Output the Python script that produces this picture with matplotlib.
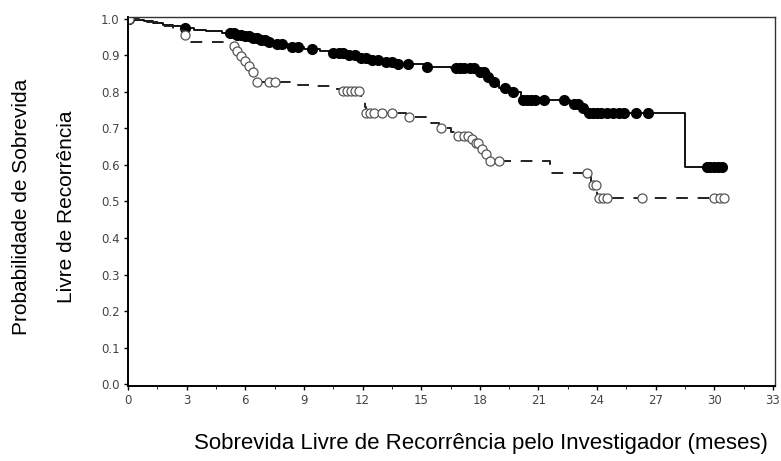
import matplotlib.pyplot as plt
import numpy as np
from matplotlib.ticker import MultipleLocator

# Solid curve (filled circles): step times and survival after each step
solid_t = [0, 0.3, 0.8, 1.3, 1.8, 2.3, 2.8, 3.4, 4.0, 4.8, 5.5, 5.9, 6.3, 6.7, 7.1,
           7.5, 8.2, 9.0, 9.8, 10.4, 11.2, 11.8, 12.5, 13.0, 13.6, 15.2, 16.5,
           18.0, 18.3, 18.6, 19.0, 19.6, 20.1, 22.6, 23.2, 23.5, 28.5, 30.5]
solid_s = [1.0, 0.997, 0.993, 0.988, 0.984, 0.979, 0.975, 0.970, 0.966, 0.962,
           0.957, 0.952, 0.947, 0.942, 0.936, 0.930, 0.924, 0.918, 0.912, 0.907,
           0.900, 0.894, 0.888, 0.881, 0.875, 0.869, 0.866, 0.855, 0.840, 0.826,
           0.812, 0.800, 0.778, 0.768, 0.755, 0.743, 0.595, 0.595]
solid_cens = [0.05, 2.9, 5.2, 5.4, 5.6, 5.8, 6.0, 6.2, 6.4, 6.6, 6.8, 7.0, 7.2, 7.6,
              7.9, 8.4, 8.7, 9.4, 10.5, 10.8, 11.0, 11.3, 11.6, 11.9, 12.2, 12.5,
              12.8, 13.2, 13.5, 13.8, 14.3, 15.3, 16.8, 17.0, 17.2, 17.5, 17.7,
              18.0, 18.2, 18.4, 18.7, 19.3, 19.7, 20.2, 20.4, 20.6, 20.8, 21.3,
              22.3, 22.8, 23.0, 23.3, 23.6, 23.8, 24.0, 24.2, 24.5, 24.8, 25.1,
              25.4, 26.0, 26.6, 29.6, 29.8, 30.0, 30.2, 30.4]

# Dashed curve (open circles)
dash_t = [0, 0.8, 1.6, 2.3, 2.8, 3.2, 5.3, 5.5, 5.7, 5.9, 6.1, 6.3, 6.5, 6.6, 8.5,
          9.5, 10.5, 11.0, 11.9, 12.0, 12.1, 12.2, 14.2, 15.5, 15.9, 16.5, 16.9,
          17.6, 17.8, 18.0, 18.2, 18.4, 21.6, 23.7, 24.0, 30.6]
dash_s = [1.0, 0.99, 0.98, 0.97, 0.955, 0.937, 0.925, 0.912, 0.898, 0.884, 0.870,
          0.855, 0.840, 0.827, 0.820, 0.815, 0.808, 0.803, 0.79, 0.775, 0.76,
          0.742, 0.73, 0.715, 0.70, 0.69, 0.68, 0.67, 0.66, 0.645, 0.63, 0.61,
          0.578, 0.545, 0.51, 0.51]
dash_cens = [0.05, 2.9, 5.4, 5.6, 5.8, 6.0, 6.2, 6.4, 6.6, 7.2, 7.5, 11.0, 11.2,
             11.4, 11.6, 11.8, 12.2, 12.4, 12.6, 13.0, 13.5, 14.4, 16.0, 16.9,
             17.2, 17.4, 17.6, 17.8, 17.9, 18.1, 18.3, 18.5, 19.0, 23.5, 23.8,
             23.95, 24.1, 24.3, 24.5, 26.3, 30.0, 30.3, 30.5]


def surv_at(times, surv, x):
    idx = np.searchsorted(times, x, side="right") - 1
    return np.array(surv)[idx]


fig = plt.figure(figsize=(7.81, 4.61), dpi=100)
ax = fig.add_axes([128 / 781, 1 - 386 / 461, 647 / 781, 369 / 461])

ax.step(solid_t, solid_s, where="post", color="black", lw=1.3)
ax.plot(solid_cens, surv_at(solid_t, solid_s, solid_cens), "o", color="black",
        ms=7, mec="black")

ax.step(dash_t, dash_s, where="post", color="#222222", lw=1.4,
        linestyle=(0, (6, 5)))
ax.plot(dash_cens, surv_at(dash_t, dash_s, dash_cens), "o", mfc="white",
        mec="#555555", mew=0.9, ms=6.5)

ax.set_xlim(0, 33.1)
ax.set_ylim(-0.005, 1.005)
ax.xaxis.set_major_locator(MultipleLocator(3))
ax.xaxis.set_minor_locator(MultipleLocator(1.5))
ax.yaxis.set_major_locator(MultipleLocator(0.1))
ax.set_yticklabels([f"{v:.1f}" for v in ax.get_yticks()])
ax.tick_params(labelsize=8.5, labelcolor="#444444", length=3, width=1, pad=3)
ax.tick_params(which="minor", length=2)
for s in ["left", "bottom"]:
    ax.spines[s].set_linewidth(1.4)
for s in ["top", "right"]:
    ax.spines[s].set_linewidth(1.0)
    ax.spines[s].set_color("#333333")

fig.text(22 / 781, 1 - 207 / 461, "Probabilidade de Sobrevida", rotation=90,
         ha="center", va="center", fontsize=15, family="Liberation Sans")
fig.text(66 / 781, 1 - 207 / 461, "Livre de Recorrência", rotation=90,
         ha="center", va="center", fontsize=15, family="Liberation Sans")
fig.text(481 / 781, 1 - 443 / 461,
         "Sobrevida Livre de Recorrência pelo Investigador (meses)",
         ha="center", va="center", fontsize=16, family="Liberation Sans")

fig.savefig("out.png", dpi=100)
